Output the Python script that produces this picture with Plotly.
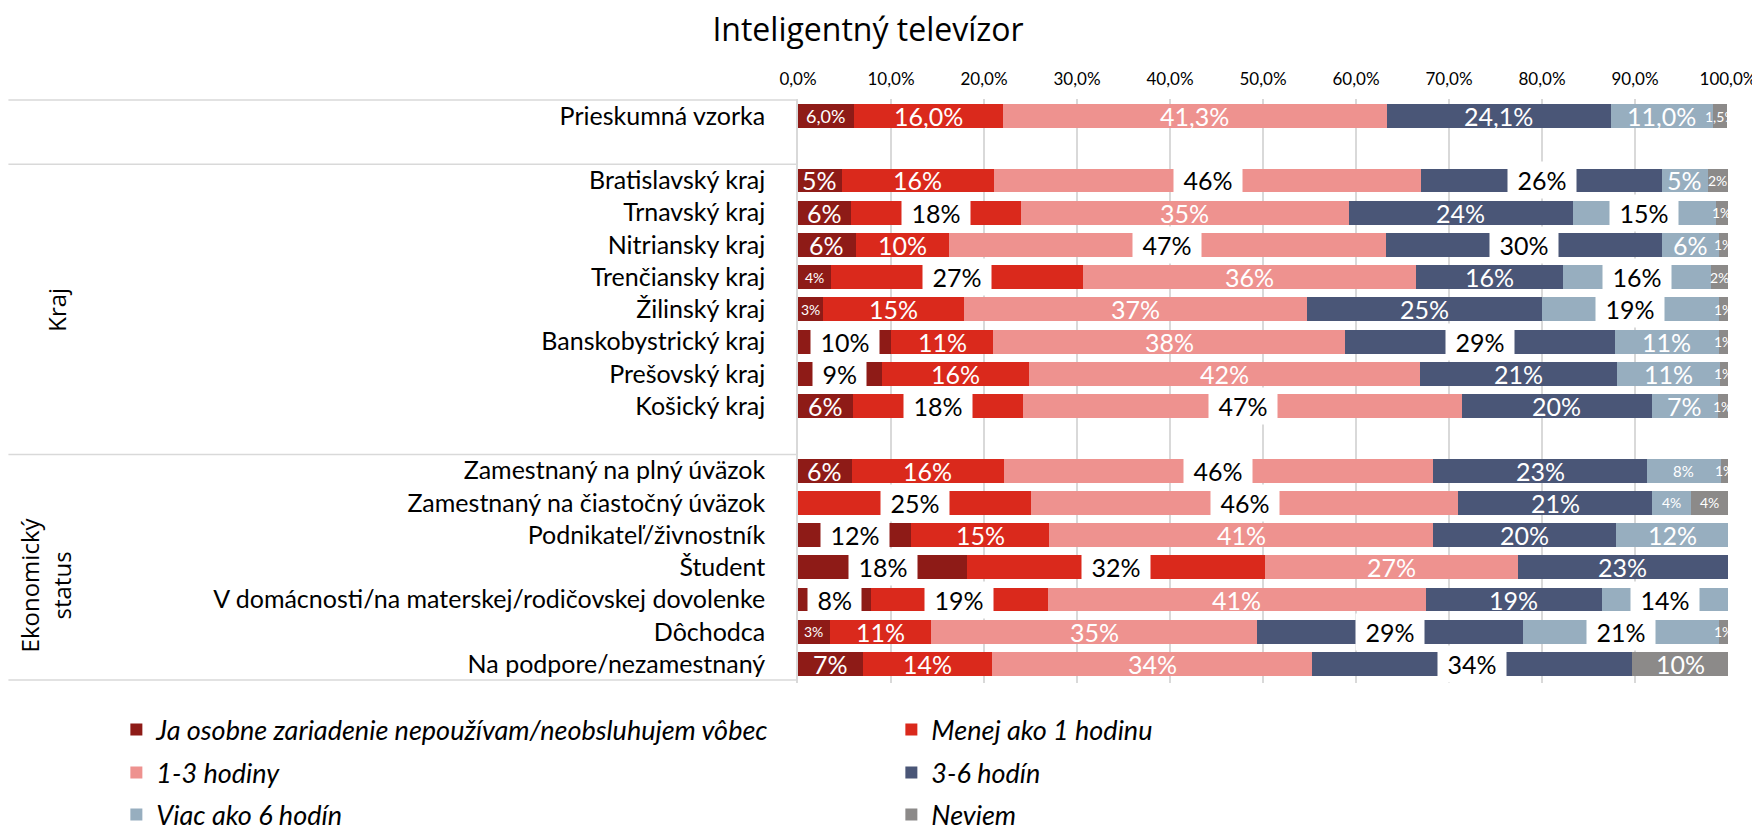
import plotly.graph_objects as go

# ---------------- data ----------------
categories = [
    "Prieskumná vzorka", " ",
    "Bratislavský kraj", "Trnavský kraj", "Nitriansky kraj", "Trenčiansky kraj",
    "Žilinský kraj", "Banskobystrický kraj", "Prešovský kraj", "Košický kraj", "  ",
    "Zamestnaný na plný úväzok", "Zamestnaný na čiastočný úväzok", "Podnikateľ/živnostník",
    "Študent", "V domácnosti/na materskej/rodičovskej dovolenke", "Dôchodca",
    "Na podpore/nezamestnaný",
]

series_names = [
    "Ja osobne zariadenie nepoužívam/neobsluhujem vôbec",
    "Menej ako 1 hodinu",
    "1-3 hodiny",
    "3-6 hodín",
    "Viac ako 6 hodín",
    "Neviem",
]

nepouzivam = [6.0, None, 4.7, 5.7, 6.2, 3.6, 2.7, 10.0, 9.0, 5.9, None, 5.8, 0.0, 12.2, 18.2, 7.8, 3.4, 7.0]
menej_1h   = [16.0, None, 16.4, 18.3, 10.0, 27.0, 15.2, 11.0, 15.8, 18.3, None, 16.3, 25.1, 14.8, 32.0, 19.1, 10.9, 13.9]
h1_3       = [41.3, None, 45.9, 35.2, 47.0, 35.8, 36.8, 37.8, 42.1, 47.2, None, 46.2, 45.9, 41.3, 27.2, 40.6, 35.1, 34.4]
h3_6       = [24.1, None, 25.9, 24.1, 29.7, 15.9, 25.3, 29.0, 21.2, 20.4, None, 23.0, 20.8, 19.7, 22.6, 18.9, 28.6, 34.4]
viac_6h    = [11.0, None, 4.9, 15.4, 6.1, 15.9, 19.0, 11.2, 11.0, 7.1, None, 7.9, 4.2, 12.0, 0.0, 13.6, 21.0, 0.0]
neviem     = [1.5, None, 2.2, 1.3, 1.0, 1.8, 1.0, 1.0, 0.9, 1.1, None, 0.8, 4.0, 0.0, 0.0, 0.0, 1.0, 10.3]

series_values = [nepouzivam, menej_1h, h1_3, h3_6, viac_6h, neviem]

x_tick_vals = [0, 10, 20, 30, 40, 50, 60, 70, 80, 90, 100]
x_tick_text = ["0,0%", "10,0%", "20,0%", "30,0%", "40,0%", "50,0%", "60,0%", "70,0%", "80,0%", "90,0%", "100,0%"]

# groups: (label, first row index, last row index) of the multi-level axis
groups = [("", 0, 1), ("Kraj", 2, 10), ("Ekonomický<br>status", 11, 17)]

title_text = "Inteligentný televízor"

# ---------------- styles ----------------
colors = ["#8E1B17", "#DA291C", "#EE928F", "#4A5677", "#97AEBF", "#8C8A89"]
one_decimal_rows = {"Prieskumná vzorka"}
# labels drawn in black on a white box (category, series index)
boxed = {
    ("Bratislavský kraj", 2), ("Bratislavský kraj", 3),
    ("Trnavský kraj", 1), ("Trnavský kraj", 4),
    ("Nitriansky kraj", 2), ("Nitriansky kraj", 3),
    ("Trenčiansky kraj", 1), ("Trenčiansky kraj", 4),
    ("Žilinský kraj", 4),
    ("Banskobystrický kraj", 0), ("Banskobystrický kraj", 3),
    ("Prešovský kraj", 0),
    ("Košický kraj", 1), ("Košický kraj", 2),
    ("Zamestnaný na plný úväzok", 2),
    ("Zamestnaný na čiastočný úväzok", 1), ("Zamestnaný na čiastočný úväzok", 2),
    ("Podnikateľ/živnostník", 0),
    ("Študent", 0), ("Študent", 1),
    ("V domácnosti/na materskej/rodičovskej dovolenke", 0),
    ("V domácnosti/na materskej/rodičovskej dovolenke", 1),
    ("V domácnosti/na materskej/rodičovskej dovolenke", 4),
    ("Dôchodca", 3), ("Dôchodca", 4),
    ("Na podpore/nezamestnaný", 3),
}
size_override = {
    ("Prieskumná vzorka", 0): 18, ("Prieskumná vzorka", 5): 14,
    ("Zamestnaný na plný úväzok", 4): 15,
}
FONT = "Lato, 'Open Sans', sans-serif"
BIG = 25
SMALL = 14
GRID = "#D9D9D9"

# page body has an 8px margin: build the figure 8px smaller and shifted
OFF = 8
W, H = 1760 - OFF, 833 - OFF
L, R, T, B = 798 - OFF, 31.5, 99 - OFF, 150
PW = W - L - R
PH = H - T - B


def px_x(X):          # target page x -> paper x
    return (X - OFF - L) / PW


def px_y(Y):          # target page y -> paper y
    return (H - B - (Y - OFF)) / PH


fig = go.Figure()
legend_ids = ["legend", "legend", "legend2", "legend2", "legend3", "legend3"]
for i, (name, vals) in enumerate(zip(series_names, series_values)):
    fig.add_trace(go.Bar(
        y=categories, x=vals, name=name, orientation="h",
        marker=dict(color=colors[i], line=dict(width=0)),
        legend=legend_ids[i], hoverinfo="skip",
    ))

# data labels
annotations = []
for r, cat in enumerate(categories):
    start = 0.0
    for s in range(len(series_values)):
        v = series_values[s][r]
        if v is None or v <= 0:
            continue
        center = start + v / 2
        start += v
        if cat in one_decimal_rows:
            txt = f"{v:.1f}".replace(".", ",") + "%"
        else:
            txt = f"{v:.0f}%"
        size = size_override.get((cat, s), SMALL if v < 4.5 else BIG)
        if (cat, s) in boxed:
            annotations.append(dict(
                x=center, y=cat, xref="x", yref="y", text="\u00a0" + txt + "\u00a0",
                showarrow=False, font=dict(family=FONT, size=size, color="black"),
                bgcolor="white", borderpad=3, xanchor="center", yanchor="middle",
            ))
        else:
            annotations.append(dict(
                x=center, y=cat, xref="x", yref="y", text=txt,
                showarrow=False, font=dict(family=FONT, size=size, color="white"),
                xanchor="center", yanchor="middle",
            ))

# group labels + divider lines of the multi-level category axis
shapes = []
left_paper = -L / PW
for label, a, b in groups:
    shapes.append(dict(type="line", xref="paper", yref="y", x0=left_paper, x1=0,
                       y0=a - 0.5, y1=a - 0.5, line=dict(color=GRID, width=1.5)))
    if label:
        multi = "<br>" in label
        annotations.append(dict(
            x=px_x(45) if multi else px_x(56),
            y=(a + b) / 2 + (0.55 if multi else 0.0), xref="paper", yref="y", text=label,
            textangle=-90, showarrow=False, align="center",
            font=dict(family="'Open Sans', sans-serif", size=24, color="black"),
            xanchor="center", yanchor="middle",
        ))
shapes.append(dict(type="line", xref="paper", yref="y", x0=left_paper, x1=0,
                   y0=len(categories) - 0.5, y1=len(categories) - 0.5,
                   line=dict(color=GRID, width=1.5)))


def leg(ypx):
    return dict(orientation="h", x=px_x(116), xanchor="left",
                y=px_y(ypx), yanchor="middle",
                entrywidth=730, entrywidthmode="pixels",
                font=dict(family=FONT, size=27, color="black", style="italic"),
                bgcolor="rgba(0,0,0,0)", traceorder="normal")


fig.update_layout(
    width=W, height=H,
    margin=dict(l=L, r=R, t=T, b=B, autoexpand=False),
    paper_bgcolor="white", plot_bgcolor="white",
    barmode="stack", bargap=0.26,
    title=dict(text=title_text, x=(868 - OFF) / W, xref="container", xanchor="center",
               y=1 - (30 - OFF) / H, yref="container", yanchor="middle",
               font=dict(family="'Open Sans', sans-serif", size=32, color="black")),
    xaxis=dict(range=[0, 100], side="top", tickvals=x_tick_vals, ticktext=x_tick_text,
               showgrid=True, gridcolor=GRID, gridwidth=1.5, zeroline=False, showline=False,
               ticks="", tickfont=dict(family=FONT, size=17, color="black"),
               ticklabelstandoff=10, fixedrange=True),
    yaxis=dict(type="category", categoryorder="array", categoryarray=categories,
               autorange="reversed", showgrid=False, zeroline=False,
               showline=True, linecolor=GRID, linewidth=1.5, ticks="",
               tickfont=dict(family=FONT, size=25, color="black"),
               ticklabelstandoff=26, fixedrange=True),
    legend=leg(730), legend2=leg(773), legend3=leg(815),
    annotations=annotations, shapes=shapes,
    showlegend=True,
)

fig.write_html("out.html")
